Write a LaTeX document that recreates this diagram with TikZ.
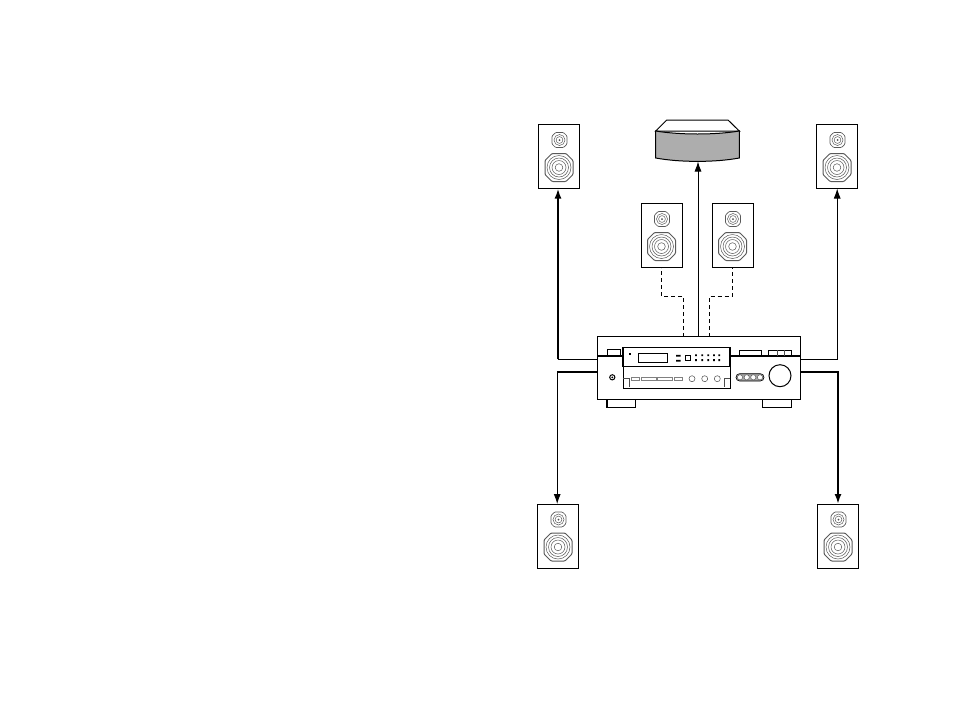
\documentclass[tikz,border=0pt]{standalone}
\usetikzlibrary{arrows.meta}
\tikzset{
  cabinet/.style={draw,line width=1pt,fill=white,minimum width=41pt,minimum height=64pt,inner sep=0pt,outer sep=0pt},
  thinwire/.style={line width=.9pt,-{Latex[length=10pt,width=7pt]}},
  thickwire/.style={line width=2pt,-{Latex[length=10pt,width=7pt]}},
  backwire/.style={line width=.9pt,dashed,dash pattern=on 4pt off 3pt},
  cone/.style={draw=black!65,line width=.5pt},
  chassis/.style={line width=1pt},
  hairline/.style={line width=.4pt,draw=black!70}
}
% one bookshelf speaker, centred at the named node
\newcommand{\bookshelf}[3]{
  \node[cabinet] (#1) at (#2,#3) {};
  \begin{scope}[xshift=#2pt,yshift=-#3pt]
    \draw[cone,line width=.7pt,rounded corners=1pt] (-3.5,-24) -- (4.5,-24) -- (8,-20.5) -- (8,-12.5) -- (4.5,-9) -- (-3.5,-9) -- (-7,-12.5) -- (-7,-20.5) -- cycle;
    \draw[cone] (.5,-16.5) circle (5.5) (.5,-16.5) circle (3.4);
    \fill[black!70] (.5,-16.5) circle (1);
    \draw[cone,line width=1pt,rounded corners=1pt] (-7,-3) -- (7,-3) -- (14,4) -- (14,18) -- (7,25) -- (-7,25) -- (-14,18) -- (-14,4) -- cycle;
    \draw[cone] (0,11) circle (12) (0,11) circle (9.5) (0,11) circle (7) (0,11) circle (3.8);
  \end{scope}
}
\begin{document}
\begin{tikzpicture}[x=1pt,y=-1pt]
\useasboundingbox (0,0) rectangle (954,716);
% speakers
\bookshelf{frontleft}{559}{156.5}
\bookshelf{frontright}{837}{156.5}
\bookshelf{surrleft}{661.5}{235.5}
\bookshelf{surrright}{732.5}{235.5}
\bookshelf{rearleft}{558}{536}
\bookshelf{rearright}{838}{536}
% centre speaker
\filldraw[fill=white,chassis] (655.7,131) -- (666.7,120) -- (728,120) -- (739.3,131) -- cycle;
\filldraw[fill=black!32,chassis] (655.7,131) .. controls (680,135) and (715,135) .. (739.3,131) -- (739.3,158) .. controls (715,162.5) and (680,162.5) .. (655.7,158) -- cycle;
\coordinate (centrespk) at (698,161.5);
% receiver
\node[draw,line width=1.2pt,minimum width=203.5pt,minimum height=62.5pt,inner sep=0pt,outer sep=0pt] (receiver) at (699,368) {};
\draw[line width=1.4pt] (607,399) -- (607,407.5) -- (635.5,407.5) -- (635.5,399);
\draw[line width=1.4pt] (762.7,399) -- (762.7,407.5) -- (791.7,407.5) -- (791.7,399);
\draw[line width=2pt] (receiver.west |- 0,356) -- (receiver.east |- 0,356);
\draw[chassis] (607.3,356) -- (607.3,349.5) -- (620.7,349.5) -- (620.7,356);
\draw[chassis] (739.3,356) -- (739.3,350) -- (761.7,350) -- (761.7,356);
\draw[chassis] (768.3,356) -- (768.3,350) -- (791.7,350) -- (791.7,356);
\draw[hairline] (776.7,350) -- (776.7,356) (784,350) -- (784,356);
% drawer with display
\filldraw[fill=white,chassis] (623,366.3) rectangle (730,388.5);
\filldraw[fill=white,line width=1.2pt] (623,347.7) rectangle (730,366.3);
\draw[chassis] (638.3,353) rectangle (667.7,362);
\fill (629,353) rectangle (631,355);
\fill (676,354.8) rectangle (680.5,356.6) (676,359.8) rectangle (680.5,361.6);
\draw[chassis] (685.7,355.7) rectangle (690.7,360.7);
\foreach \dotx in {696,702.3,708.3,714,719.3}
  \fill (\dotx-.9,354.4) rectangle (\dotx+.9,356.2) (\dotx-.9,359.2) rectangle (\dotx+.9,361);
\draw[hairline,draw=black!50] (631,377.3) rectangle (639.3,380) (641,377.3) rectangle (655.7,380) (657.3,377.3) rectangle (672.3,380) (674.3,377.3) rectangle (681.7,380);
\foreach \knobx in {692,704.7,717.3}
  \draw[hairline,line width=.5pt] (\knobx,378.7) circle (3);
\draw[hairline] (623,378.5) -- (629.3,378.5) -- (629.3,386.5);
\draw[hairline] (730,378.5) -- (724,378.5) -- (724,386.5);
% front panel controls
\draw[chassis] (612.3,377.3) circle (2.6);
\fill (612.3,377.3) circle (1);
\filldraw[fill=black!35,line width=.6pt,rounded corners=3.6pt] (736,373.7) rectangle (764,381);
\foreach \btnx in {740,746.7,753.3,760}
  \filldraw[fill=white,hairline] (\btnx,377.3) circle (2.6);
\draw[chassis] (780,375.7) circle (11);
% wires
\coordinate (flout) at (597.3,359.3);
\coordinate (flbend) at (558,359.3);
\coordinate (frout) at (800.7,359.3);
\coordinate (frbend) at (837.2,359.3);
\coordinate (rlout) at (597.3,371.8);
\coordinate (rlbend) at (557.2,371.8);
\coordinate (rrout) at (800.7,371.8);
\coordinate (rrbend) at (838,371.8);
\draw[line width=.9pt] (flout) -- (flbend);
\draw[thickwire] (flbend) -- (flbend |- frontleft.south);
\draw[thinwire] (frout) -- (frbend) -- (frbend |- frontright.south);
\draw[line width=2pt] (rlout) -- (rlbend);
\draw[thinwire] (rlbend) -- (rlbend |- rearleft.north);
\draw[thickwire] (rrout) -- (rrbend) -- (rrbend |- rearright.north);
\draw[thinwire] (centrespk |- receiver.north) -- (centrespk);
\draw[backwire] (683.3,336.7) -- (683.3,296) -- (surrleft.south |- 0,296) -- (surrleft.south);
\draw[backwire] (709.3,336.7) -- (709.3,296) -- (surrright.south |- 0,296) -- (surrright.south);
\end{tikzpicture}
\end{document}
